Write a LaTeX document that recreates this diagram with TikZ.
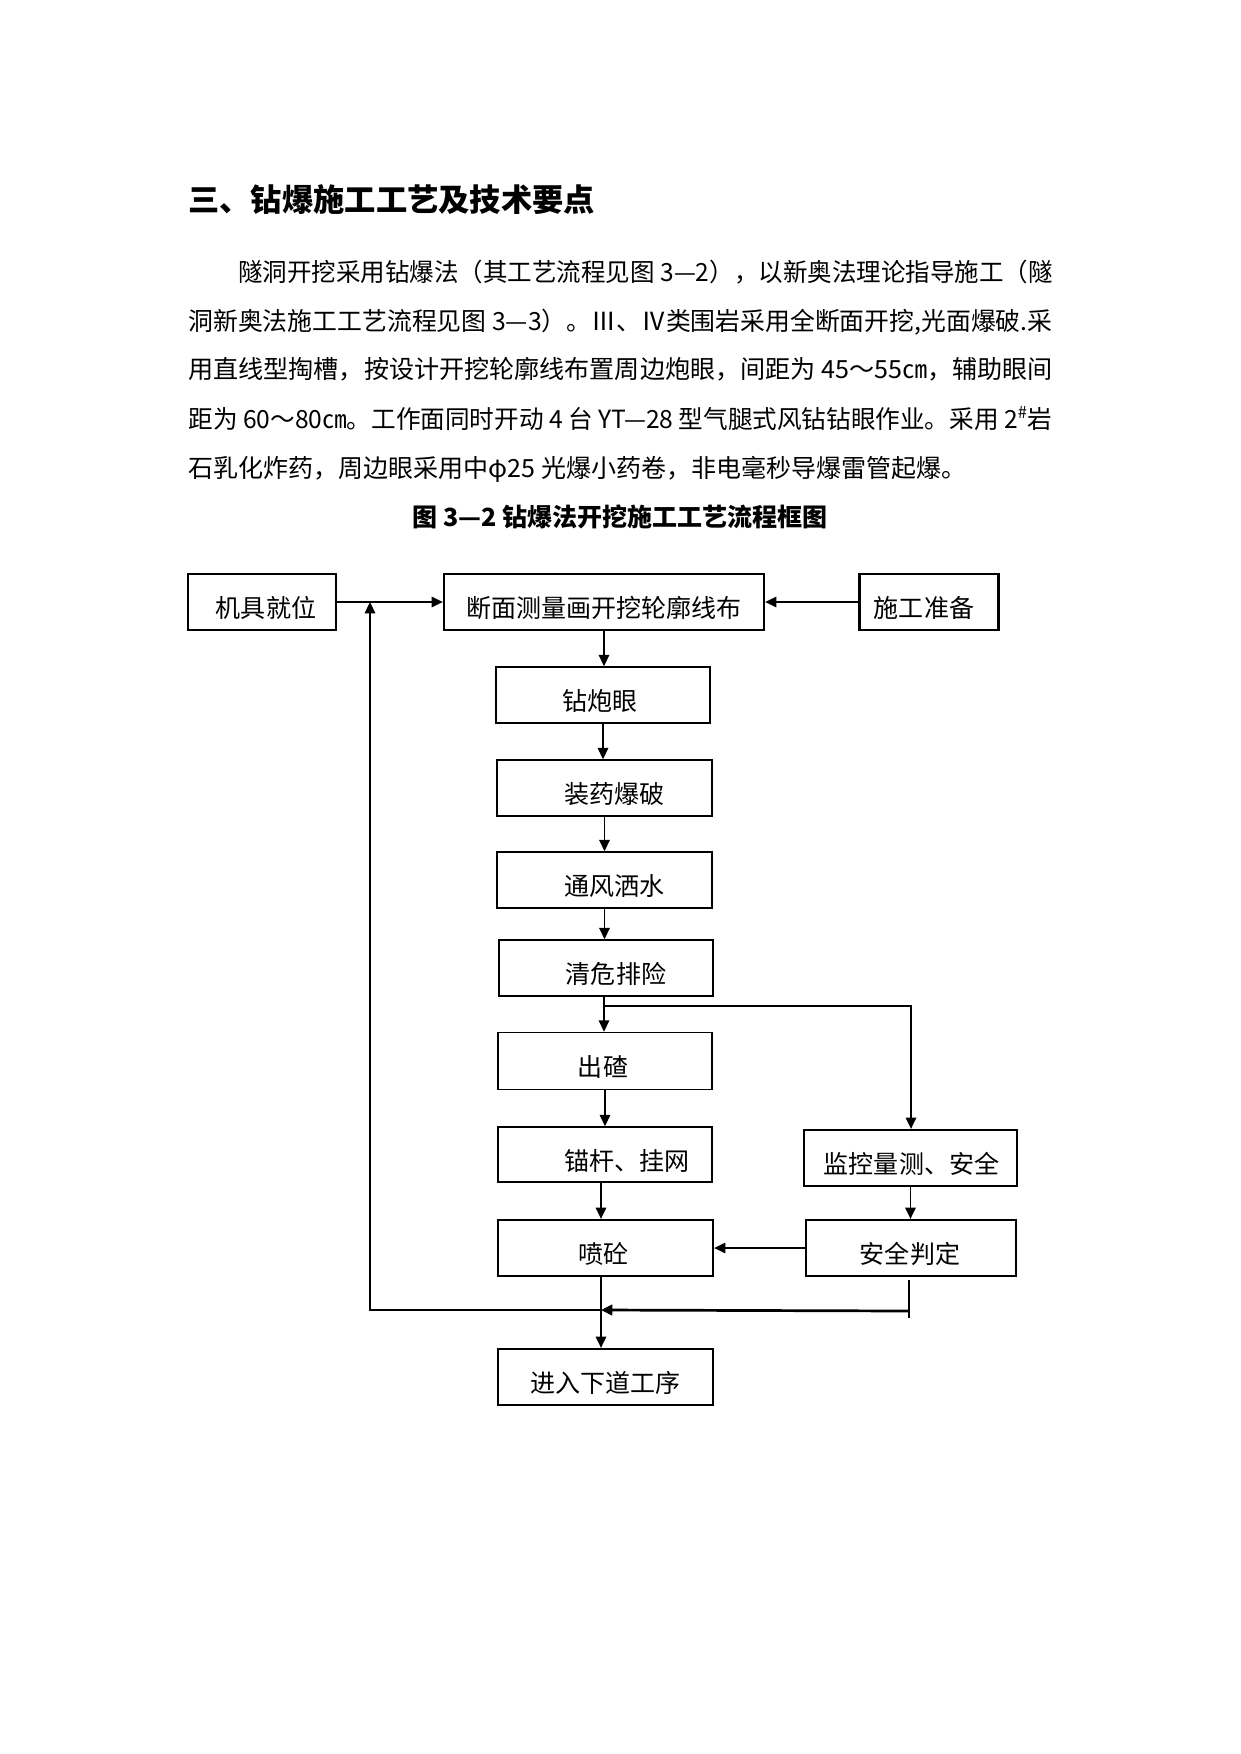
\documentclass[tikz,border=0pt]{standalone}
\usepackage{graphicx}
\usepackage{fontspec}
\setmainfont{Noto Sans CJK SC}
\usetikzlibrary{arrows.meta}
\def\pxu{0.47967pt}
\newcommand\jline[2]{\resizebox{#1}{\height}{#2}}
\tikzset{
  box/.style={draw, line width=0.75pt, inner sep=0pt, minimum height=56*\pxu},
  boxthick/.style={box, line width=1.1pt},
  lbl/.style={inner sep=0pt, font=\fontsize{12pt}{14pt}\selectfont},
  conn/.style={line width=0.8pt},
  arr/.style={conn, -{Triangle[length=5.4pt,width=5pt]}},
  bodyl/.style={anchor=base west, inner sep=0pt, font=\fontsize{12pt}{14pt}\selectfont},
}
\begin{document}
\begin{tikzpicture}[x=0.47967pt, y=-0.47967pt]
\fill[white] (0,0) rectangle (1241,1754);
\useasboundingbox (0,0) rectangle (1241,1754);

% heading and body
\node[anchor=base west, inner sep=0pt, font=\fontsize{15pt}{18pt}\selectfont\bfseries] (title) at (188,211) {三、钻爆施工工艺及技术要点};
\node[bodyl] (l1) at (238,281) {\jline{390.5pt}{隧洞开挖采用钻爆法（其工艺流程见图 3—2），以新奥法理论指导施工（隧}};
\node[bodyl] (l2) at (188,330) {\jline{414.5pt}{洞新奥法施工工艺流程见图 3—3）。Ⅲ、Ⅳ类围岩采用全断面开挖,光面爆破.采}};
\node[bodyl] (l3) at (188,378) {\jline{414.5pt}{用直线型掏槽，按设计开挖轮廓线布置周边炮眼，间距为 45～55㎝，辅助眼间}};
\node[bodyl] (l4) at (188,428) {\jline{414.5pt}{距为 60～80㎝。工作面同时开动 4 台 YT—28 型气腿式风钻钻眼作业。采用 2\textsuperscript{\#}岩}};
\node[bodyl] (l5) at (188,477) {石乳化炸药，周边眼采用中φ25 光爆小药卷，非电毫秒导爆雷管起爆。};
\node[anchor=base, inner sep=0pt, font=\fontsize{12pt}{14pt}\selectfont\bfseries] (cap) at (620,526) {图 3—2 钻爆法开挖施工工艺流程框图};

% boxes
\node[boxthick, minimum width=148*\pxu] (jj) at (262,602) {};
\node[boxthick, minimum width=320*\pxu] (dm) at (604,602) {};
\node[boxthick, minimum width=139*\pxu] (sg) at (929,602) {};
\node[box, minimum width=214*\pxu] (zpy) at (603,695) {};
\node[box, minimum width=215*\pxu] (zy) at (604.5,788) {};
\node[box, minimum width=215*\pxu] (tf) at (604.5,880) {};
\node[box, minimum width=214*\pxu] (qw) at (606,968) {};
\node[box, minimum width=214*\pxu, minimum height=57*\pxu] (cz) at (605,1061) {};
\node[box, minimum width=214*\pxu, minimum height=55*\pxu] (mg) at (605,1154.5) {};
\node[boxthick, minimum width=213*\pxu] (jk) at (910.5,1158) {};
\node[boxthick, minimum width=215*\pxu] (pt) at (605.5,1248) {};
\node[boxthick, minimum width=210*\pxu] (aq) at (911,1248) {};
\node[boxthick, minimum width=215*\pxu] (jr) at (605.5,1377) {};

% labels
\node[lbl] (jj-t) at ([shift={(4,6)}]jj.center) {机具就位};
\node[lbl] (dm-t) at ([shift={(0,6)}]dm.center) {断面测量画开挖轮廓线布};
\node[lbl] (sg-t) at ([shift={(-5,6)}]sg.center) {施工准备};
\node[lbl] (zpy-t) at ([shift={(-3,6)}]zpy.center) {钻炮眼};
\node[lbl] (zy-t) at ([shift={(10,6)}]zy.center) {装药爆破};
\node[lbl] (tf-t) at ([shift={(10,6)}]tf.center) {通风洒水};
\node[lbl] (qw-t) at ([shift={(10,6)}]qw.center) {清危排险};
\node[lbl] (cz-t) at ([shift={(-2,6)}]cz.center) {出碴};
\node[lbl] (mg-t) at ([shift={(22,6)}]mg.center) {锚杆、挂网};
\node[lbl] (jk-t) at ([shift={(1,6)}]jk.center) {监控量测、安全};
\node[lbl] (pt-t) at ([shift={(-2,6)}]pt.center) {喷砼};
\node[lbl] (aq-t) at ([shift={(-1,6)}]aq.center) {安全判定};
\node[lbl] (jr-t) at ([shift={(0,6)}]jr.center) {进入下道工序};

% helper coordinates
\coordinate (br) at (604,1006);
\coordinate (brR) at (911,1006);
\coordinate (mL) at (370,1310);
\coordinate (mC) at (601,1310);
\coordinate (mR) at (909,1311);
\coordinate (rTop) at (909,1280);
\coordinate (rBot) at (909,1318);

% connectors
\draw[arr] (jj.east) -- (dm.west);
\draw[arr] (sg.west) -- (dm.east);
\draw[arr] (dm.south) -- (dm.south |- zpy.north);
\draw[arr] (zpy.south) -- (zpy.south |- zy.north);
\draw[arr] (zy.south) -- (zy.south |- tf.north);
\draw[arr] (tf.south) -- (tf.south |- qw.north);
\draw[conn] (br |- qw.south) -- (br);
\draw[arr] (br) -- (br |- cz.north);
\draw[arr] (br) -- (brR) -- (brR |- jk.north);
\draw[arr] (cz.south) -- (cz.south |- mg.north);
\draw[arr] (mC |- mg.south) -- (mC |- pt.north);
\draw[arr] (jk.south) -- (jk.south |- aq.north);
\draw[arr] (aq.west) -- (pt.east);
\draw[arr] (mC |- pt.south) -- (mC |- jr.north);
\draw[arr] (mC) -- (mL) -- (mL |- jj.east);
\draw[conn] (rTop) -- (rBot);
\draw[arr, line width=1.3pt] (mR) -- (mC);
\end{tikzpicture}
\end{document}
